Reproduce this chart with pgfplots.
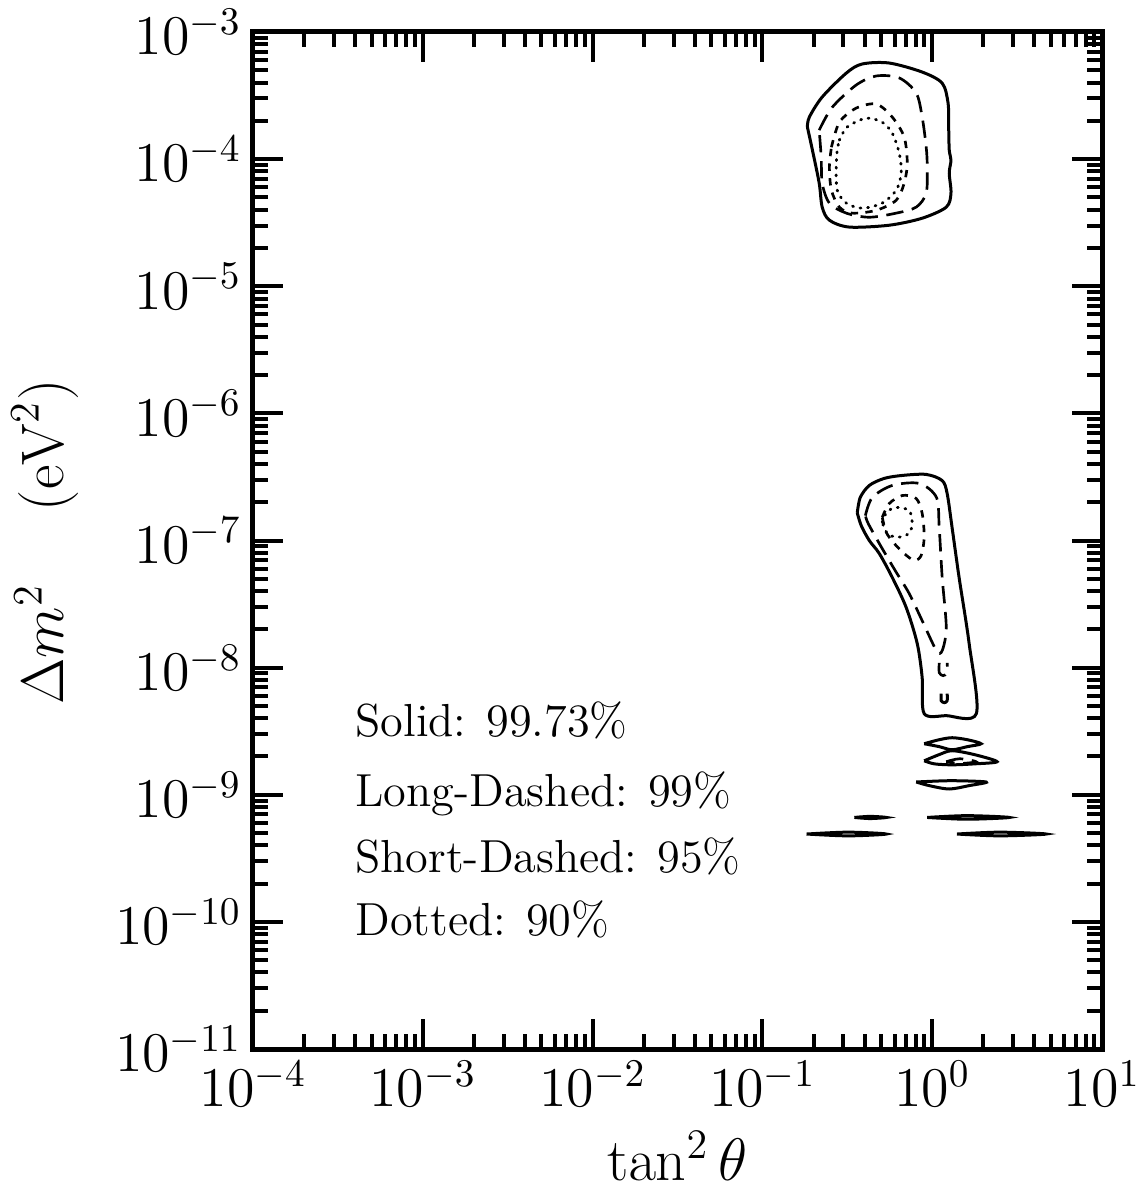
\RequirePackage{fix-cm}
\documentclass[border=0pt]{standalone}
\usepackage{pgfplots}
\pgfplotsset{compat=1.18}
\tikzset{
  solidc/.style={black, line width=0.9pt, solid},
  ldash/.style={black, line width=0.8pt, dash pattern=on 5.2pt off 2.6pt},
  sdash/.style={black, line width=0.8pt, dash pattern=on 2.2pt off 2.2pt},
  dotd/.style={black, line width=0.85pt, line cap=round, dash pattern=on 0.3pt off 2pt},
}
\begin{document}
\begin{tikzpicture}
\useasboundingbox (-75.9pt,-42.9pt) rectangle (265.5pt,314.7pt);
\begin{axis}[
  at={(0,0)}, anchor=south west,
  scale only axis, width=254.7pt, height=305.1pt,
  xmode=log, ymode=log,
  xmin=1e-4, xmax=10, ymin=1e-11, ymax=1e-3,
  xtick={1e-4,1e-3,1e-2,1e-1,1,10},
  ytick={1e-11,1e-10,1e-9,1e-8,1e-7,1e-6,1e-5,1e-4,1e-3},
  minor xtick={2e-4,3e-4,4e-4,5e-4,6e-4,7e-4,8e-4,9e-4,
    2e-3,3e-3,4e-3,5e-3,6e-3,7e-3,8e-3,9e-3,
    2e-2,3e-2,4e-2,5e-2,6e-2,7e-2,8e-2,9e-2,
    0.2,0.3,0.4,0.5,0.6,0.7,0.8,0.9,
    2,3,4,5,6,7,8,9},
  minor ytick={2e-11,3e-11,4e-11,5e-11,6e-11,7e-11,8e-11,9e-11,
    2e-10,3e-10,4e-10,5e-10,6e-10,7e-10,8e-10,9e-10,
    2e-9,3e-9,4e-9,5e-9,6e-9,7e-9,8e-9,9e-9,
    2e-8,3e-8,4e-8,5e-8,6e-8,7e-8,8e-8,9e-8,
    2e-7,3e-7,4e-7,5e-7,6e-7,7e-7,8e-7,9e-7,
    2e-6,3e-6,4e-6,5e-6,6e-6,7e-6,8e-6,9e-6,
    2e-5,3e-5,4e-5,5e-5,6e-5,7e-5,8e-5,9e-5,
    2e-4,3e-4,4e-4,5e-4,6e-4,7e-4,8e-4,9e-4},
  tick align=inside, tick pos=both,
  major tick length=9pt, minor tick length=4.5pt,
  every tick/.append style={black, line width=1.2pt},
  axis line style={line width=1.5pt},
  tick label style={font=\fontsize{16.8}{19}\selectfont},
  label style={font=\fontsize{18}{21}\selectfont},
  xlabel={$\tan^2\theta$},
  ylabel={$\Delta m^2$\hspace{22pt}$(\mathrm{eV}^2)$},
  xlabel style={at={(axis description cs:0.5,-0.105)}, anchor=center},
  ylabel style={at={(axis description cs:-0.245,0.4985)}, anchor=center},
]
% ---------- upper (LMA) region ----------
\addplot[solidc, smooth] coordinates {(0.184,1.79e-4)(0.189,2.14e-4)(0.225,3.08e-4)(0.312,4.75e-4)(0.387,5.60e-4)(0.558,5.70e-4)(0.873,4.84e-4)(1.145,3.96e-4)(1.24,2.76e-4)(1.25,1.8e-4)(1.26,1.18e-4)(1.29,9.8e-5)(1.26,7.76e-5)(1.29,5.40e-5)(1.21,4.19e-5)(0.873,3.43e-5)(0.558,3.02e-5)(0.325,2.92e-5)(0.248,3.31e-5)(0.225,4.19e-5)(0.216,6.47e-5)(0.197,1.18e-4)(0.184,1.79e-4)};
\addplot[ldash, smooth] coordinates {(0.216,1.69e-4)(0.258,2.56e-4)(0.357,3.83e-4)(0.469,4.51e-4)(0.640,4.35e-4)(0.805,3.31e-4)(0.873,2.14e-4)(0.922,1.24e-4)(0.935,8.65e-5)(0.922,5.40e-5)(0.805,4.19e-5)(0.614,3.76e-5)(0.426,3.49e-5)(0.312,3.76e-5)(0.248,4.51e-5)(0.225,6.47e-5)(0.222,1.04e-4)(0.216,1.69e-4)};
\addplot[sdash, smooth] coordinates {(0.255,1.24e-4)(0.284,1.95e-4)(0.357,2.52e-4)(0.469,2.71e-4)(0.582,2.14e-4)(0.684,1.49e-4)(0.713,9.3e-5)(0.684,6.47e-5)(0.614,4.75e-5)(0.469,3.96e-5)(0.338,3.76e-5)(0.284,4.19e-5)(0.255,5.70e-5)(0.248,8.65e-5)(0.255,1.24e-4)};
\addplot[dotd, smooth] coordinates {(0.284,1.41e-4)(0.316,1.79e-4)(0.409,2.10e-4)(0.508,1.95e-4)(0.582,1.60e-4)(0.640,1.11e-4)(0.657,7.76e-5)(0.614,5.70e-5)(0.508,4.51e-5)(0.387,4.11e-5)(0.312,4.51e-5)(0.276,5.70e-5)(0.272,8.65e-5)(0.276,1.18e-4)(0.284,1.41e-4)};
% ---------- lower (LOW) region ----------
\addplot[solidc, smooth] coordinates {(0.362,1.65e-7)(0.377,2.18e-7)(0.426,2.71e-7)(0.522,3.08e-7)(0.667,3.25e-7)(0.922,3.31e-7)(1.145,2.96e-7)(1.225,2.34e-7)(1.31,1.26e-7)(1.44,5.12e-8)(1.65,1.55e-8)(1.82,4.35e-9)(1.21,4.19e-9)(0.897,4.35e-9)(0.873,8.34e-9)(0.816,1.55e-8)(0.703,2.97e-8)(0.582,5.12e-8)(0.488,7.9e-8)(0.426,1.0e-7)(0.382,1.31e-7)(0.362,1.65e-7)};
\addplot[ldash, smooth] coordinates {(0.404,1.57e-7)(0.444,2.18e-7)(0.582,2.71e-7)(0.839,2.81e-7)(1.06,2.18e-7)(1.10,1.26e-7)(1.145,5.12e-8)(1.21,2.07e-8)(1.145,1.36e-8)(1.06,1.36e-8)(0.873,2.34e-8)(0.732,3.83e-8)(0.605,5.81e-8)(0.488,9.47e-8)(0.42,1.36e-7)(0.404,1.57e-7)};
\addplot[ldash, smooth] coordinates {(1.10,1.09e-8)(1.10,9.14e-9)(1.16,8.65e-9)(1.225,9.14e-9)(1.225,1.09e-8)};
\addplot[solidc, smooth] coordinates {(1.13,6.24e-9)(1.13,5.50e-9)(1.18,5.30e-9)(1.225,5.50e-9)(1.225,6.24e-9)};
\addplot[sdash, smooth] coordinates {(0.508,1.52e-7)(0.558,1.95e-7)(0.667,2.26e-7)(0.805,2.14e-7)(0.873,1.63e-7)(0.897,1.06e-7)(0.861,7.62e-8)(0.784,6.97e-8)(0.684,7.9e-8)(0.598,9.47e-8)(0.536,1.16e-7)(0.508,1.52e-7)};
\addplot[dotd, smooth] coordinates {(0.508,1.39e-7)(0.543,1.69e-7)(0.622,1.82e-7)(0.732,1.72e-7)(0.762,1.39e-7)(0.732,1.14e-7)(0.622,1.06e-7)(0.543,1.14e-7)(0.508,1.39e-7)};
% ---------- islands ----------
\addplot[solidc, smooth] coordinates {(0.897,2.52e-9)(1.10,2.71e-9)(1.31,2.81e-9)(1.61,2.71e-9)(1.94,2.52e-9)(1.61,2.39e-9)(1.31,2.26e-9)(1.10,2.39e-9)(0.897,2.52e-9)};
\addplot[solidc, smooth] coordinates {(0.897,1.85e-9)(1.10,2.07e-9)(1.31,2.22e-9)(1.77,2.07e-9)(2.41,1.82e-9)(1.77,1.75e-9)(1.31,1.72e-9)(1.03,1.75e-9)(0.897,1.85e-9)};
\addplot[ldash, smooth] coordinates {(1.21,1.82e-9)(1.45,1.92e-9)(1.81,1.82e-9)(1.45,1.76e-9)(1.21,1.82e-9)};
\addplot[solidc, smooth] coordinates {(0.805,1.26e-9)(1.29,1.29e-9)(2.08,1.26e-9)(1.65,1.18e-9)(1.26,1.11e-9)(0.96,1.18e-9)(0.805,1.26e-9)};
\addplot[solidc, smooth] coordinates {(0.348,6.63e-10)(0.43,6.76e-10)(0.536,6.63e-10)(0.43,6.50e-10)(0.348,6.63e-10)};
\addplot[solidc, smooth] coordinates {(0.935,6.63e-10)(1.6,6.85e-10)(2.84,6.63e-10)(1.6,6.42e-10)(0.935,6.63e-10)};
\addplot[solidc, smooth] coordinates {(0.182,4.91e-10)(0.32,5.08e-10)(0.536,4.91e-10)(0.32,4.75e-10)(0.182,4.91e-10)};
\addplot[solidc, smooth] coordinates {(1.40,4.91e-10)(2.5,5.08e-10)(4.69,4.91e-10)(2.5,4.75e-10)(1.40,4.91e-10)};
% ---------- annotations ----------
\node[anchor=base west, inner sep=0pt, font=\fontsize{13.9}{16}\selectfont] at (rel axis cs:0.120,0.3068) {Solid: 99.73\%};
\node[anchor=base west, inner sep=0pt, font=\fontsize{13.9}{16}\selectfont] at (rel axis cs:0.120,0.2389) {Long-Dashed: 99\%};
\node[anchor=base west, inner sep=0pt, font=\fontsize{13.9}{16}\selectfont] at (rel axis cs:0.120,0.1740) {Short-Dashed: 95\%};
\node[anchor=base west, inner sep=0pt, font=\fontsize{13.9}{16}\selectfont] at (rel axis cs:0.120,0.1121) {Dotted: 90\%};
\end{axis}
\end{tikzpicture}
\end{document}
